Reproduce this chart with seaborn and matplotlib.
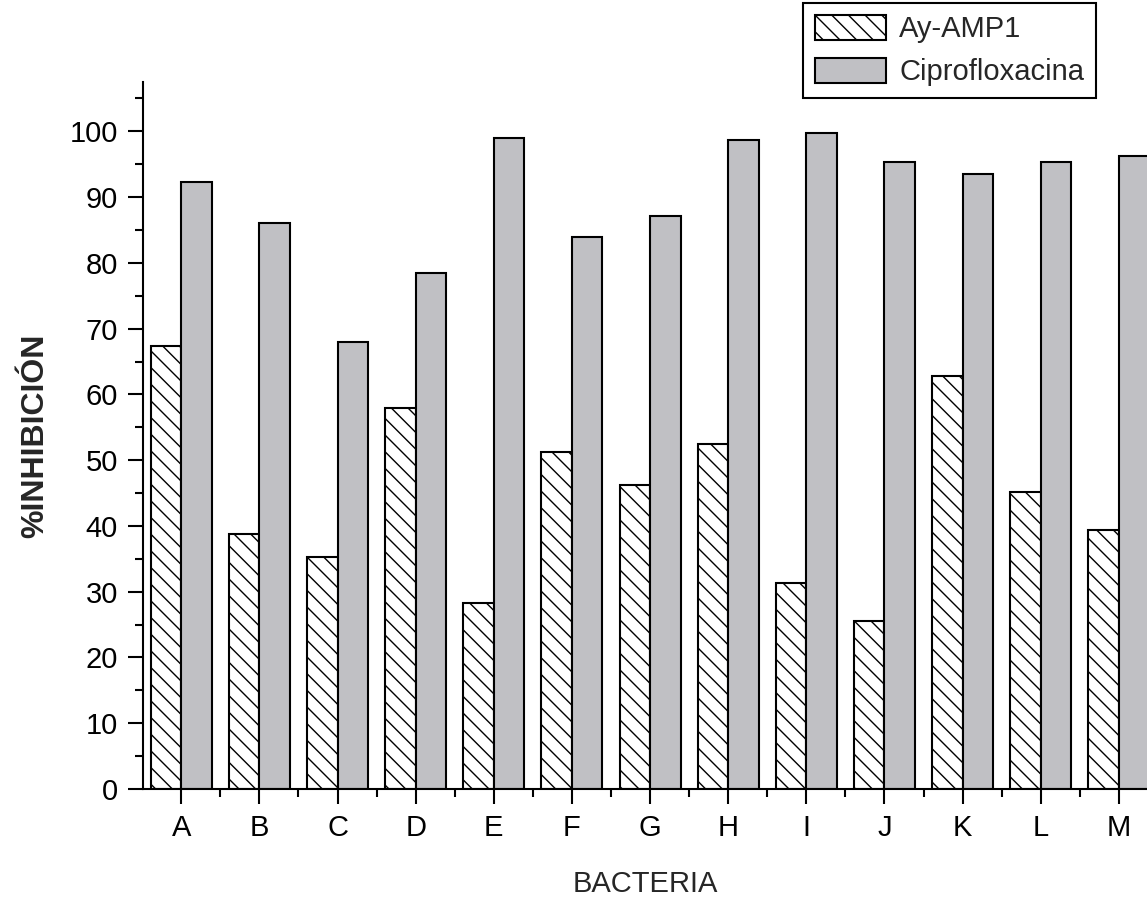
import matplotlib
matplotlib.use("Agg")
import matplotlib.pyplot as plt
from matplotlib.patches import Patch
from matplotlib.ticker import MultipleLocator, FixedLocator
import seaborn as sns
import pandas as pd

bacteria = ['A', 'B', 'C', 'D', 'E', 'F', 'G', 'H', 'I', 'J', 'K', 'L', 'M']
ay_amp1 = [67.3, 38.8, 35.2, 58.0, 28.3, 51.3, 46.2, 52.5, 31.3, 25.6, 62.8, 45.1, 39.4]
cipro = [92.3, 86.0, 68.0, 78.5, 99.0, 84.0, 87.2, 98.7, 99.8, 95.3, 93.5, 95.3, 96.2]
series = ['Ay-AMP1', 'Ciprofloxacina']

df = pd.DataFrame({
    'bacteria': bacteria * 2,
    'valor': ay_amp1 + cipro,
    'serie': [series[0]] * len(bacteria) + [series[1]] * len(bacteria),
})

sns.set_style('white')
plt.rcParams['font.family'] = ['Liberation Sans', 'DejaVu Sans']
plt.rcParams['hatch.linewidth'] = 1.0

fig = plt.figure(figsize=(11.47, 9), dpi=100)
ax = fig.add_axes([143 / 1147, 1 - 789 / 900, 1 - 143 / 1147, (789 - 82) / 900])

colors = {'Ay-AMP1': 'white', 'Ciprofloxacina': '#c0c0c4'}
sns.barplot(data=df, x='bacteria', y='valor', hue='serie', palette=colors,
            width=0.78, edgecolor='black', linewidth=1.5, saturation=1,
            legend=False, ax=ax)

# diagonal hatch for the peptide bars
for bar in ax.containers[0]:
    bar.set_hatch('\\\\')

ax.set_xlim(-0.49, 12.36)
ax.set_ylim(0, 107.5)
ax.yaxis.set_major_locator(MultipleLocator(10))
ax.yaxis.set_minor_locator(MultipleLocator(5))
ax.xaxis.set_minor_locator(FixedLocator([i + 0.5 for i in range(-1, 13)]))

for s in ['top', 'right']:
    ax.spines[s].set_visible(False)
for s in ['left', 'bottom']:
    ax.spines[s].set_linewidth(1.5)
    ax.spines[s].set_color('black')

ax.tick_params(which='major', direction='out', length=11, width=1.5,
               labelsize=21, left=True, bottom=True, colors='black', pad=7)
ax.tick_params(which='minor', direction='out', length=5.5, width=1.5,
               left=True, bottom=True, colors='black')

ax.set_xlabel('BACTERIA', fontsize=21, labelpad=20)
ax.set_ylabel('%INHIBICIÓN', fontsize=23, fontweight='bold', labelpad=14)

handles = [
    Patch(facecolor='white', edgecolor='black', hatch='\\\\', linewidth=1.5, label=series[0]),
    Patch(facecolor='#c0c0c4', edgecolor='black', linewidth=1.5, label=series[1]),
]
leg = fig.legend(handles=handles, loc='upper left', bbox_to_anchor=(803 / 1147, 1 - 3 / 900),
                 fontsize=21, handlelength=2.45, handleheight=0.95, handletextpad=0.45,
                 labelspacing=0.5, borderpad=0.4, borderaxespad=0, fancybox=False,
                 framealpha=1, edgecolor='black')
leg.get_frame().set_linewidth(1.5)

fig.savefig('out.png', dpi=100)
